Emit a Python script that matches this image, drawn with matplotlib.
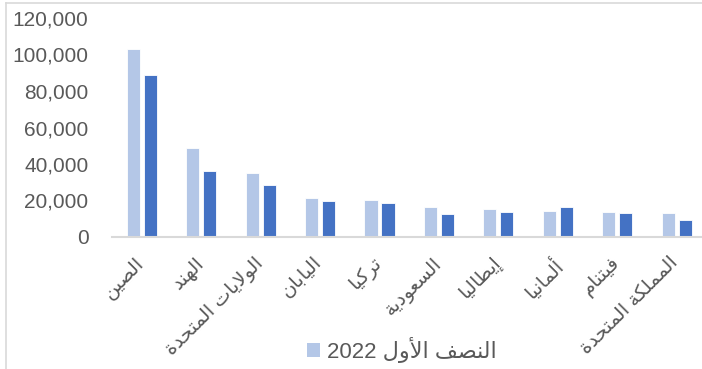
import matplotlib
matplotlib.use("Agg")
import matplotlib.pyplot as plt
from matplotlib.lines import Line2D
from matplotlib.patches import Patch

categories = ["الصين", "الهند", "الولايات المتحدة", "اليابان", "تركيا",
              "السعودية", "إيطاليا", "ألمانيا", "فيتنام", "المملكة المتحدة"]
series1_name = "النصف الأول 2022"
series2_name = "النصف الأول 2023"
series1 = [103000, 48900, 34900, 21200, 20400, 16300, 15300, 14400, 13700, 13300]
series2 = [88800, 36000, 28500, 19700, 18800, 12600, 13700, 16300, 13100, 9300]
yticks = [0, 20000, 40000, 60000, 80000, 100000, 120000]

# --- minimal Arabic shaping (presentation forms) + RTL ordering ---
FORMS = {
    '\u0627': (0xFE8D, 0xFE8E, None, None),
    '\u0623': (0xFE83, 0xFE84, None, None),
    '\u0625': (0xFE87, 0xFE88, None, None),
    '\u0628': (0xFE8F, 0xFE90, 0xFE91, 0xFE92),
    '\u0629': (0xFE93, 0xFE94, None, None),
    '\u062A': (0xFE95, 0xFE96, 0xFE97, 0xFE98),
    '\u062D': (0xFEA1, 0xFEA2, 0xFEA3, 0xFEA4),
    '\u062F': (0xFEA9, 0xFEAA, None, None),
    '\u0631': (0xFEAD, 0xFEAE, None, None),
    '\u0633': (0xFEB1, 0xFEB2, 0xFEB3, 0xFEB4),
    '\u0635': (0xFEB9, 0xFEBA, 0xFEBB, 0xFEBC),
    '\u0637': (0xFEC1, 0xFEC2, 0xFEC3, 0xFEC4),
    '\u0639': (0xFEC9, 0xFECA, 0xFECB, 0xFECC),
    '\u0641': (0xFED1, 0xFED2, 0xFED3, 0xFED4),
    '\u0643': (0xFED9, 0xFEDA, 0xFEDB, 0xFEDC),
    '\u0644': (0xFEDD, 0xFEDE, 0xFEDF, 0xFEE0),
    '\u0645': (0xFEE1, 0xFEE2, 0xFEE3, 0xFEE4),
    '\u0646': (0xFEE5, 0xFEE6, 0xFEE7, 0xFEE8),
    '\u0647': (0xFEE9, 0xFEEA, 0xFEEB, 0xFEEC),
    '\u0648': (0xFEED, 0xFEEE, None, None),
    '\u064A': (0xFEF1, 0xFEF2, 0xFEF3, 0xFEF4),
}
LAMALEF = {'\u0627': (0xFEFB, 0xFEFC), '\u0623': (0xFEF7, 0xFEF8),
           '\u0625': (0xFEF9, 0xFEFA)}


def shape_word(w):
    items = []
    i = 0
    while i < len(w):
        c = w[i]
        if c == '\u0644' and i + 1 < len(w) and w[i + 1] in LAMALEF:
            items.append(('LA', w[i + 1]))
            i += 2
        else:
            items.append(('C', c))
            i += 1

    def dual(it):
        return it[0] == 'C' and it[1] in FORMS and FORMS[it[1]][2] is not None

    def joining(it):
        return it[0] == 'LA' or it[1] in FORMS

    out = []
    for k, it in enumerate(items):
        pj = k > 0 and dual(items[k - 1]) and joining(it)
        nj = k + 1 < len(items) and dual(it) and joining(items[k + 1])
        kind, c = it
        if kind == 'LA':
            out.append(chr(LAMALEF[c][1 if pj else 0]))
        elif c in FORMS:
            iso, fin, ini, med = FORMS[c]
            if pj and nj:
                out.append(chr(med))
            elif pj:
                out.append(chr(fin))
            elif nj:
                out.append(chr(ini))
            else:
                out.append(chr(iso))
        else:
            out.append(c)
    return ''.join(out)


def is_arabic(tok):
    return any('\u0600' <= ch <= '\u06FF' for ch in tok)


def visual(line):
    toks = line.split(' ')
    res = []
    for t in reversed(toks):
        res.append(shape_word(t)[::-1] if is_arabic(t) else t)
    return ' '.join(res)


FONT = ['Liberation Sans', 'DejaVu Sans']
TXT = '#595959'
LIGHT = '#B4C7E7'
DARK = '#4472C4'

plt.rcParams['font.family'] = FONT

fig = plt.figure(figsize=(7.02, 3.69), dpi=100)
W, H = 702, 369
ax = fig.add_axes([112 / W, (H - 237) / H, (W - 112) / W, (237 - 18) / H])

x = list(range(len(categories)))
off = 0.143
bw = 0.22
ax.bar([i - off for i in x], series1, width=bw, color=LIGHT, edgecolor='white',
       linewidth=0.6, label=series1_name, zorder=2)
ax.bar([i + off for i in x], series2, width=bw, color=DARK, edgecolor='white',
       linewidth=0.6, label=series2_name, zorder=2)

ax.set_ylim(0, 120000)
ax.set_xlim(-0.5, -0.5 + 590 / 59.45)
ax.set_yticks(yticks)
ax.set_yticklabels([f"{v:,}" for v in yticks], color=TXT, fontsize=15)
ax.tick_params(axis='y', length=0, pad=17)
ax.set_xticks([])
for s in ['top', 'right', 'left']:
    ax.spines[s].set_visible(False)
ax.spines['bottom'].set_color('#D9D9D9')
ax.spines['bottom'].set_linewidth(1.5)

for i, name in enumerate(categories):
    ax.annotate(visual(name), xy=(i, 0),
                xycoords=('data', 'axes fraction'),
                xytext=(-5, -12), textcoords='offset points',
                rotation=45, rotation_mode='anchor', ha='right', va='top',
                fontsize=14, color=TXT, annotation_clip=False)

handles = [Patch(facecolor=LIGHT, edgecolor='none')]
fig.legend(handles, [visual(series1_name)], loc='center',
           bbox_to_anchor=(402 / W, 1 - 350 / H), frameon=False,
           fontsize=16, labelcolor=TXT, handlelength=0.6, handleheight=0.6,
           handletextpad=0.3)

# chart-area border (partially visible)
fig.add_artist(Line2D([6 / W, 6 / W], [0, 1 - 3 / H], color='#D9D9D9', lw=1.2))
fig.add_artist(Line2D([6 / W, 1], [1 - 3 / H, 1 - 3 / H], color='#D9D9D9', lw=1.2))

fig.savefig('out.png', dpi=100)
